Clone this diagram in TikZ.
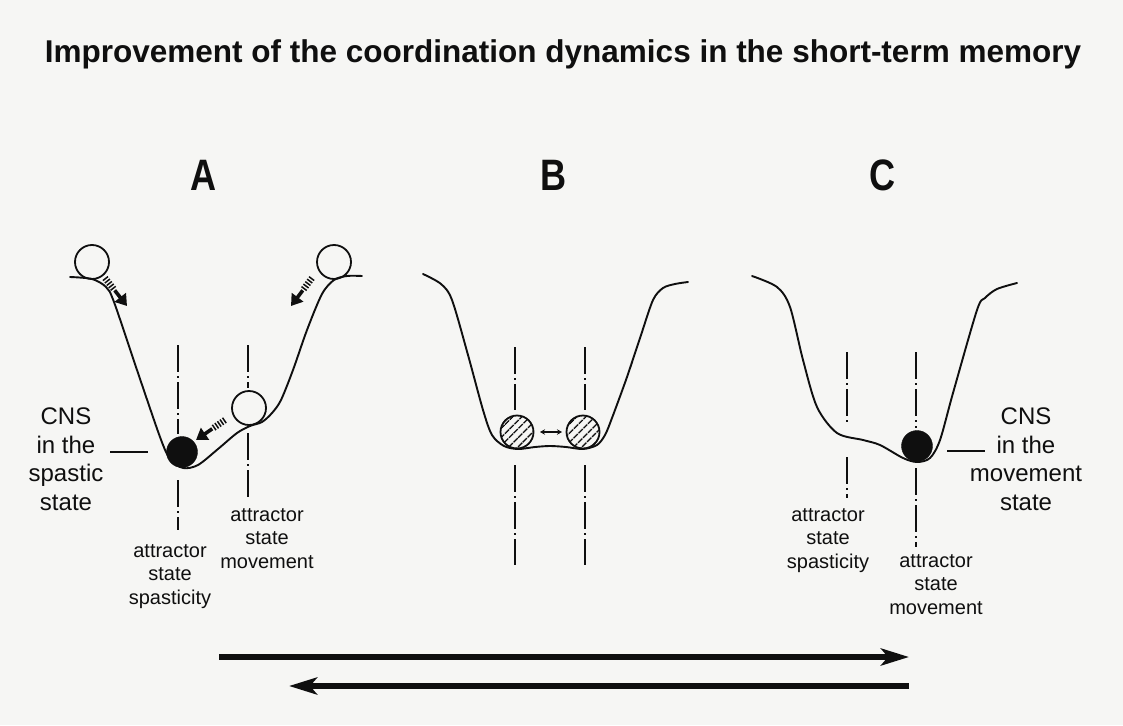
\documentclass[tikz,border=0pt]{standalone}
\usepackage{fontspec}
\usepackage{graphicx}
\setmainfont{Liberation Sans}
\usetikzlibrary{arrows.meta,patterns.meta,calc}
\definecolor{bg}{RGB}{246,246,244}
\definecolor{ink}{RGB}{15,15,15}
\tikzset{
  curve/.style={line width=1.9pt, draw=ink, line join=round, line cap=round},
  axisline/.style={line width=1.6pt, draw=ink, dash pattern=on 27pt off 4pt on 2pt off 4pt},
  ball/.style={circle, draw=ink, line width=1.8pt, minimum size=34pt, inner sep=0pt},
  blackball/.style={circle, fill=ink, draw=ink, minimum size=31pt, inner sep=0pt},
  hatchball/.style={circle, draw=ink, line width=1.8pt, minimum size=33pt, inner sep=0pt,
    pattern={Lines[angle=45,distance=6.5pt,line width=1.8pt]}, pattern color=ink},
  biglabel/.style={font=\fontsize{24}{28.5}\selectfont, align=center, inner sep=0pt, anchor=north, text=ink},
  smalllabel/.style={font=\fontsize{20}{23.5}\selectfont, align=center, inner sep=0pt, anchor=north, text=ink},
  panel/.style={font=\fontsize{44}{44}\selectfont\bfseries, inner sep=0pt, anchor=base, text=ink},
  bigarrow/.style={line width=6pt, draw=ink, -{Stealth[length=28pt,width=17pt,inset=7pt]}},
  tick/.style={line width=1.7pt, draw=ink}
}
\newcommand\hatcharrow[2]{%
  \draw[ink, line width=6.5pt, dash pattern=on 1.5pt off 1.6pt] (#1) -- ($(#1)!0.40!(#2)$);
  \draw[ink, line width=3.6pt, -{Triangle[length=11pt,width=14pt]}] ($(#1)!0.44!(#2)$) -- (#2);
}
\begin{document}
\begin{tikzpicture}[x=1pt,y=-1pt]
\fill[bg] (0,0) rectangle (1123,725);
\useasboundingbox (0,0) rectangle (1123,725);

% title
\node[font=\fontsize{31.5}{31.5}\selectfont\bfseries, inner sep=0pt, anchor=base, text=ink] (title) at (563,63)
  {Improvement of the coordination dynamics in the short-term memory};

% panel letters
\node[panel] (labA) at (204,190) {\scalebox{0.82}[1]{A}};
\node[panel] (labB) at (554,190) {\scalebox{0.82}[1]{B}};
\node[panel] (labC) at (883,190) {\scalebox{0.82}[1]{C}};

% ---------------- Panel A ----------------
\draw[curve] plot[smooth, tension=0.5] coordinates {
  (70,277) (92,279) (106,287) (114,302) (137,370) (160,437) (170,459) (183,468)
  (198,465) (218,449) (237,433) (250,426) (262,422) (272,413) (281,400) (293,370)
  (307,330) (322,294) (334,280) (347,276) (362,276)};
\node[ball] (aTL) at (92,262) {};
\node[ball] (aTR) at (334,262) {};
\node[ball] (aMv) at (249,408) {};
\node[blackball] (aSp) at (182,452) {};
\draw[axisline] (178,345) -- (178,434);
\draw[axisline] (178,480) -- (178,530);
\draw[axisline] (248,345) -- (248,388);
\draw[axisline] (248,433) -- (248,497);
\coordinate (a1t) at (105,278); \coordinate (a1h) at (127,306);
\coordinate (a2t) at (312,278); \coordinate (a2h) at (291,306);
\coordinate (a3t) at (225,420); \coordinate (a3h) at (196,440);
\hatcharrow{a1t}{a1h}
\hatcharrow{a2t}{a2h}
\hatcharrow{a3t}{a3h}
\coordinate (aTick1) at (110,452); \coordinate (aTick2) at (148,452);
\draw[tick] (aTick1) -- (aTick2);
\node[biglabel] (cnsA) at (66,408) {CNS\\in the\\spastic\\state};
\node[smalllabel] (atA1) at (170,544) {attractor\\state\\spasticity};
\node[smalllabel] (atA2) at (267,508) {attractor\\state\\movement};

% ---------------- Panel B ----------------
\draw[curve] plot[smooth, tension=0.5] coordinates {
  (423,274) (441,284) (452,300) (468,355) (483,410) (492,435) (504,446) (518,449)
  (535,447) (550,446) (566,447) (583,449) (597,445) (605,435) (612,418) (627,377)
  (641,335) (653,300) (663,288) (675,284) (688,282)};
\node[hatchball] (bL) at (517,432) {};
\node[hatchball] (bR) at (583,432) {};
\draw[ink, line width=1.2pt, {Stealth[length=5pt,width=5.5pt]}-{Stealth[length=5pt,width=5.5pt]}] (540,432) -- (562,432);
\draw[axisline] (515,347) -- (515,410);
\draw[axisline] (515,465) -- (515,565);
\draw[axisline] (585,347) -- (585,410);
\draw[axisline] (585,465) -- (585,565);

% ---------------- Panel C ----------------
\draw[curve] plot[smooth, tension=0.5] coordinates {
  (752,276) (777,287) (790,307) (803,360) (817,407) (837,433) (863,440) (880,445)
  (903,458) (917,462) (930,458) (940,440) (953,393) (977,310) (985,298) (997,289) (1017,283)};
\node[blackball] (cMv) at (917,446) {};
\draw[axisline] (847,352) -- (847,425);
\draw[axisline] (847,457) -- (847,498);
\draw[axisline] (916,352) -- (916,428);
\draw[axisline] (916,468) -- (916,547);
\coordinate (cTick1) at (947,451); \coordinate (cTick2) at (985,451);
\draw[tick] (cTick1) -- (cTick2);
\node[biglabel] (cnsC) at (1026,408) {CNS\\in the\\movement\\state};
\node[smalllabel] (atC1) at (828,508) {attractor\\state\\spasticity};
\node[smalllabel] (atC2) at (936,554) {attractor\\state\\movement};

% ---------------- big arrows ----------------
\coordinate (r1s) at (219,657); \coordinate (r1e) at (909,657);
\coordinate (r2s) at (909,686); \coordinate (r2e) at (289,686);
\draw[bigarrow] (r1s) -- (r1e);
\draw[bigarrow] (r2s) -- (r2e);
\end{tikzpicture}
\end{document}
